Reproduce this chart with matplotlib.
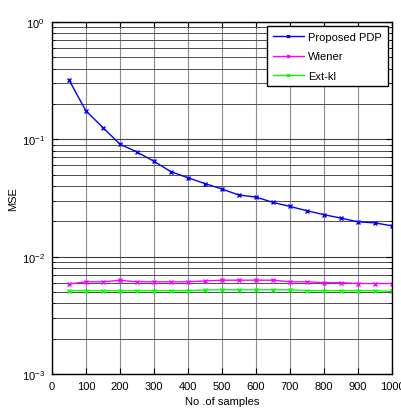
import matplotlib
matplotlib.use("Agg")
import matplotlib.pyplot as plt
from matplotlib.ticker import LogLocator, NullFormatter

plt.rcParams['font.family'] = ['Liberation Sans', 'DejaVu Sans']
plt.rcParams['mathtext.fontset'] = 'custom'
plt.rcParams['mathtext.rm'] = 'Liberation Sans'
plt.rcParams['mathtext.it'] = 'Liberation Sans'

samples = [50, 100, 150, 200, 250, 300, 350, 400, 450, 500,
           550, 600, 650, 700, 750, 800, 850, 900, 950, 1000]
proposed = [0.322, 0.175, 0.126, 0.091, 0.078, 0.065, 0.053, 0.047, 0.042, 0.0377,
            0.0335, 0.0322, 0.029, 0.0268, 0.0246, 0.0228, 0.0213, 0.0198, 0.0194, 0.0183]
wiener = [0.00584, 0.0061, 0.0061, 0.00628, 0.0061, 0.0061, 0.0061, 0.0061, 0.0062, 0.0063,
          0.0063, 0.0063, 0.0063, 0.0061, 0.0061, 0.0060, 0.0060, 0.0059, 0.0059, 0.0059]
extkl = [0.00513, 0.00513, 0.00513, 0.00513, 0.00513, 0.00513, 0.00513, 0.00513, 0.0052, 0.00522,
         0.00522, 0.00522, 0.00522, 0.00522, 0.00513, 0.00513, 0.00513, 0.00513, 0.00513, 0.00505]
xticks = list(range(0, 1001, 100))

fig = plt.figure(figsize=(4.02, 4.10), dpi=100)
ax = fig.add_axes([0.129, 0.0854, 0.846, 0.8586])

ax.semilogy(samples, proposed, color='#0000ff', marker='x', ms=3, mew=1.0, lw=1.0, label='Proposed PDP')
ax.semilogy(samples, wiener, color='#ff00ff', marker='x', ms=3, mew=1.0, lw=1.0, label='Wiener')
ax.semilogy(samples, extkl, color='#00ff00', marker='x', ms=3, mew=1.0, lw=1.0, label='Ext-kl')

ax.set_xlim(0, 1000)
ax.set_ylim(1e-3, 1)
ax.set_xticks(xticks)
ax.yaxis.set_major_locator(LogLocator(base=10, numticks=10))
ax.yaxis.set_minor_locator(LogLocator(base=10, subs=range(2, 10), numticks=20))
ax.yaxis.set_minor_formatter(NullFormatter())

ax.grid(True, which='major', axis='x', color='0.55', lw=0.8)
ax.grid(True, which='major', axis='y', color='0.25', lw=0.8)
ax.grid(True, which='minor', axis='y', color='0.3', lw=0.7)
ax.tick_params(which='both', direction='in', labelsize=8, top=True, right=True)
ax.tick_params(which='major', length=4, pad=5)
ax.tick_params(which='minor', length=2)
for s in ax.spines.values():
    s.set_linewidth(1.0)

ax.set_xlabel('No .of samples', fontsize=8, labelpad=4)
ax.set_ylabel('MSE', fontsize=8)
ax.yaxis.set_label_coords(-0.1, 0.5)

leg = ax.legend(loc='upper right', fontsize=8, fancybox=False, framealpha=1,
                edgecolor='black', borderaxespad=0.4, handlelength=2.8,
                labelspacing=0.85, handletextpad=0.4, borderpad=0.5, markerscale=0.7)
leg.get_frame().set_linewidth(1.0)

fig.savefig('out.png', dpi=100)
